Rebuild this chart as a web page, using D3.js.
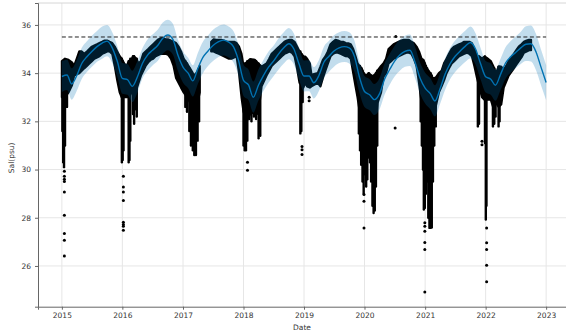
<!DOCTYPE html>
<html>
<head>
<meta charset="utf-8">
<script src="https://cdn.jsdelivr.net/npm/d3@7/dist/d3.min.js"></script>
<style>
  html, body { margin: 0; padding: 0; background: #fff; }
  svg { display: block; font-family: "DejaVu Sans", sans-serif; }
</style>
</head>
<body>
<svg id="chart" width="566" height="333"></svg>
<script>
// Salinity observations (psu) with a fitted seasonal forecast and its uncertainty band.

// Forecast: monthly samples, 2015-01 .. 2023-01
const fcDates = [
  "2015-01-01","2015-02-01","2015-03-01","2015-04-01","2015-05-01","2015-06-01","2015-07-01","2015-08-01","2015-09-01","2015-10-01","2015-11-01","2015-12-01",
  "2016-01-01","2016-02-01","2016-03-01","2016-04-01","2016-05-01","2016-06-01","2016-07-01","2016-08-01","2016-09-01","2016-10-01","2016-11-01","2016-12-01",
  "2017-01-01","2017-02-01","2017-03-01","2017-04-01","2017-05-01","2017-06-01","2017-07-01","2017-08-01","2017-09-01","2017-10-01","2017-11-01","2017-12-01",
  "2018-01-01","2018-02-01","2018-03-01","2018-04-01","2018-05-01","2018-06-01","2018-07-01","2018-08-01","2018-09-01","2018-10-01","2018-11-01","2018-12-01",
  "2019-01-01","2019-02-01","2019-03-01","2019-04-01","2019-05-01","2019-06-01","2019-07-01","2019-08-01","2019-09-01","2019-10-01","2019-11-01","2019-12-01",
  "2020-01-01","2020-02-01","2020-03-01","2020-04-01","2020-05-01","2020-06-01","2020-07-01","2020-08-01","2020-09-01","2020-10-01","2020-11-01","2020-12-01",
  "2021-01-01","2021-02-01","2021-03-01","2021-04-01","2021-05-01","2021-06-01","2021-07-01","2021-08-01","2021-09-01","2021-10-01","2021-11-01","2021-12-01",
  "2022-01-01","2022-02-01","2022-03-01","2022-04-01","2022-05-01","2022-06-01","2022-07-01","2022-08-01","2022-09-01","2022-10-01","2022-11-01","2022-12-01",
  "2023-01-01"
];
const yhat = [
  33.86,33.92,33.55,33.90,34.40,34.68,34.90,35.10,35.25,35.33,35.05,34.50,
  33.78,33.73,33.45,33.85,34.40,34.75,34.95,35.15,35.45,35.58,35.40,34.75,
  34.25,34.00,33.68,34.20,34.65,34.92,35.15,35.30,35.37,35.30,35.10,34.55,
  33.70,33.50,33.00,33.50,33.90,34.25,34.50,34.80,35.05,35.22,35.00,34.40,
  33.88,33.88,33.60,33.90,34.45,34.70,34.92,35.05,35.10,35.05,34.70,33.85,
  33.24,33.10,32.90,33.15,33.75,34.15,34.50,34.75,34.90,34.95,34.45,33.80,
  33.38,33.15,32.85,33.35,33.95,34.40,34.70,34.92,35.12,35.27,35.00,34.40,
  33.85,33.75,33.50,33.95,34.42,34.68,34.86,35.05,35.20,35.22,34.88,34.25,
  33.61
];
const yhatLower = [
  33.22,33.30,32.90,33.27,33.76,34.05,34.26,34.47,34.60,34.70,34.42,33.86,
  33.14,33.10,32.80,33.20,33.78,34.10,34.32,34.50,34.80,34.95,34.76,34.10,
  33.60,33.37,33.03,33.56,34.00,34.30,34.50,34.66,34.73,34.66,34.45,33.92,
  33.05,32.87,32.36,32.86,33.26,33.60,33.87,34.15,34.40,34.58,34.36,33.76,
  33.24,33.25,32.95,33.26,33.80,34.06,34.27,34.42,34.46,34.40,34.06,33.20,
  32.60,32.46,32.26,32.50,33.10,33.52,33.86,34.10,34.26,34.30,33.80,33.16,
  32.74,32.50,32.20,32.72,33.30,33.76,34.05,34.28,34.47,34.62,34.36,33.75,
  33.20,33.10,32.85,33.30,33.77,34.02,34.20,34.38,34.50,34.48,34.12,33.50,
  32.88
];
const yhatUpper = [
  34.50,34.56,34.20,34.55,35.05,35.32,35.55,35.75,35.93,36.00,35.70,35.14,
  34.42,34.38,34.10,34.50,35.03,35.40,35.60,35.80,36.10,36.22,36.05,35.40,
  34.90,34.64,34.33,34.85,35.30,35.56,35.80,35.95,36.02,35.95,35.75,35.20,
  34.35,34.14,33.65,34.15,34.55,34.90,35.14,35.45,35.70,35.87,35.64,35.05,
  34.52,34.53,34.25,34.55,35.10,35.34,35.57,35.70,35.75,35.70,35.35,34.50,
  33.88,33.75,33.55,33.80,34.40,34.80,35.14,35.40,35.55,35.60,35.10,34.45,
  34.02,33.80,33.50,34.00,34.60,35.05,35.35,35.57,35.77,35.93,35.65,35.05,
  34.50,34.40,34.15,34.60,35.07,35.33,35.52,35.72,35.95,35.98,35.62,34.98,
  34.33
];

// Capacity used by the logistic trend
const capValue = 35.5;
const capStart = "2015-01-01";
const capEnd = "2023-01-01";

// Main body of the observation cloud: upper and lower extent (null = no data)
const cloudDates = [
  "2015-01-01","2015-01-20","2015-02-10","2015-03-03","2015-03-16","2015-04-01","2015-04-16","2015-05-01","2015-05-16","2015-06-01","2015-06-16",
  "2015-07-01","2015-07-16","2015-08-01","2015-08-16","2015-09-01","2015-09-16","2015-10-01","2015-10-16","2015-11-01","2015-11-16","2015-12-01","2015-12-16","2015-12-28",
  "2016-01-12","2016-01-26","2016-02-10","2016-02-25","2016-03-10","2016-03-25","2016-04-08","2016-04-22","2016-05-06","2016-05-20","2016-06-05","2016-06-20",
  "2016-07-05","2016-07-20","2016-08-05","2016-08-20","2016-09-05","2016-09-20","2016-10-05","2016-10-20","2016-11-05","2016-11-20","2016-12-05","2016-12-20",
  "2017-01-05","2017-01-25","2017-02-12","2017-03-01","2017-03-14","2017-03-30","2017-04-12","2017-04-20",
  "2017-06-20","2017-07-05","2017-07-20","2017-08-05","2017-08-20","2017-09-05","2017-09-20","2017-10-05","2017-10-20","2017-11-05","2017-11-20","2017-12-05","2017-12-20",
  "2018-01-01","2018-01-20","2018-02-10","2018-03-10","2018-03-31","2018-04-20","2018-05-20","2018-06-05","2018-06-20","2018-07-05","2018-07-20","2018-08-05","2018-08-20",
  "2018-09-05","2018-09-20","2018-10-05","2018-10-20","2018-11-05","2018-11-20","2018-12-05","2018-12-28",
  "2019-01-08","2019-01-20","2019-02-05","2019-02-15","2019-03-25","2019-04-10","2019-04-25","2019-05-10","2019-05-25","2019-06-10","2019-06-25",
  "2019-07-10","2019-07-25","2019-08-10","2019-08-25","2019-09-10","2019-09-25","2019-10-10","2019-10-25","2019-11-08","2019-11-20","2019-12-01","2019-12-15","2019-12-26",
  "2020-01-10","2020-01-28","2020-02-10","2020-02-25","2020-03-10","2020-03-20","2020-04-10","2020-04-25","2020-05-10","2020-05-25","2020-06-10","2020-06-25",
  "2020-07-10","2020-07-25","2020-08-10","2020-08-25","2020-09-10","2020-09-25","2020-10-10","2020-10-25","2020-11-10","2020-11-25","2020-12-10","2020-12-22",
  "2021-01-10","2021-02-01","2021-02-20","2021-03-05","2021-03-25","2021-04-10","2021-04-25","2021-05-10","2021-05-25","2021-06-10","2021-06-25",
  "2021-07-10","2021-07-25","2021-08-10","2021-08-25","2021-09-10","2021-09-25","2021-10-10","2021-10-25","2021-11-10","2021-11-25","2021-12-10","2021-12-25",
  "2022-01-10","2022-02-01","2022-02-15","2022-03-05","2022-03-20","2022-04-05","2022-04-20","2022-05-05","2022-05-20","2022-06-05","2022-06-20",
  "2022-07-05","2022-07-20","2022-08-05","2022-08-20","2022-09-05","2022-09-20","2022-10-02"
];
const cloudHigh = [
  34.5,34.6,34.55,34.45,34.3,34.6,34.9,34.9,34.8,34.9,35.0,
  35.1,35.15,35.2,35.25,35.3,35.35,35.35,35.3,35.25,35.1,34.9,34.7,34.6,
  34.4,34.3,34.5,34.6,34.7,34.6,34.4,34.5,34.8,34.9,35.0,35.1,
  35.2,35.3,35.4,35.45,35.45,35.4,35.4,35.35,35.3,35.25,35.1,34.9,
  34.6,34.4,34.2,34.0,33.9,34.1,34.3,null,
  35.3,35.4,35.38,35.38,35.38,35.35,35.3,35.3,35.3,35.3,35.25,35.1,34.8,
  34.3,34.45,34.58,34.55,34.4,34.27,34.4,34.6,34.8,34.9,35.0,35.1,35.2,
  35.3,35.35,35.38,35.38,35.3,35.1,34.9,34.7,
  34.69,34.6,34.41,33.93,34.0,34.27,34.55,34.69,34.9,35.2,35.3,
  35.38,35.35,35.3,35.3,35.25,35.24,35.2,35.0,34.7,34.41,34.3,34.2,34.0,
  33.9,34.0,33.9,33.86,34.0,34.1,34.3,34.41,34.6,35.0,35.1,35.2,
  35.25,35.3,35.35,35.38,35.38,35.38,35.3,35.24,35.1,34.9,34.6,34.55,
  34.2,34.0,33.72,33.8,34.0,34.1,34.41,34.6,34.8,35.0,35.1,
  35.15,35.2,35.24,35.3,35.3,35.3,35.24,35.0,34.7,34.69,34.6,34.69,
  34.62,34.5,34.3,34.0,34.27,34.27,34.14,34.3,34.5,34.65,34.8,
  34.95,35.1,35.2,35.3,35.35,35.38,35.38
];
const cloudLow = [
  33.0,33.0,33.2,33.5,33.9,33.95,34.0,34.1,34.2,34.3,34.4,
  34.5,34.6,34.65,34.7,34.8,34.85,34.9,34.9,34.8,34.3,33.7,33.2,33.0,
  33.0,33.0,33.0,33.2,33.3,33.3,33.6,33.9,34.1,34.3,34.45,34.55,
  34.6,34.7,34.75,34.8,34.8,34.8,34.75,34.6,34.3,33.8,33.6,33.4,
  33.2,33.0,32.8,32.6,32.6,32.8,33.2,null,
  34.9,34.9,34.85,34.8,34.75,34.7,34.65,34.6,34.6,34.65,34.7,34.0,33.0,
  32.4,32.0,32.3,32.4,32.3,33.45,33.9,34.1,34.3,34.4,34.5,34.6,34.7,
  34.8,34.85,34.9,34.85,34.7,34.2,33.6,33.4,
  33.6,33.45,33.4,33.45,33.6,33.45,33.8,34.1,34.4,34.7,34.8,
  34.85,34.85,34.8,34.75,34.7,34.69,34.6,34.0,33.45,33.0,32.5,32.2,32.0,
  32.0,32.2,32.0,31.8,32.0,32.76,33.2,33.86,34.0,34.4,34.5,34.6,
  34.65,34.7,34.75,34.8,34.85,34.85,34.8,34.6,34.3,33.6,32.8,32.2,
  32.0,32.0,32.3,32.6,33.2,33.45,33.7,34.0,34.2,34.4,34.5,
  34.6,34.7,34.75,34.8,34.85,34.8,34.7,34.3,33.8,33.4,33.0,32.9,
  32.9,32.9,32.6,32.76,32.6,32.7,33.4,33.65,33.9,34.05,34.2,
  34.35,34.5,34.65,34.85,34.9,34.95,34.95
];

// Short runs of fresher water: top and bottom of each vertical streak
const streakDates = [
  "2015-01-04","2015-01-09","2015-01-14","2015-01-20","2015-02-01",
  "2015-12-29","2016-01-03","2016-01-08","2016-02-08","2016-02-13","2016-02-18","2016-03-05","2016-03-12","2016-03-20","2016-03-28",
  "2017-01-15","2017-01-25","2017-02-08","2017-02-18","2017-03-01","2017-03-10","2017-03-20","2017-03-30","2017-04-08",
  "2018-01-01","2018-01-08","2018-01-16","2018-01-24","2018-02-05","2018-02-18","2018-03-05","2018-03-18","2018-04-02","2018-04-12",
  "2018-12-10","2018-12-16","2018-12-24",
  "2019-11-28","2019-12-05","2019-12-12","2019-12-20","2019-12-27","2020-01-04","2020-01-11","2020-01-18","2020-01-26","2020-02-03",
  "2020-02-10","2020-02-18","2020-02-25","2020-03-03","2020-03-10","2020-03-18",
  "2020-12-05","2020-12-12","2020-12-19","2020-12-24","2020-12-30","2021-01-06","2021-01-13","2021-01-20","2021-01-27","2021-02-03",
  "2021-02-10","2021-02-17","2021-02-25","2021-03-06",
  "2021-11-15","2021-11-22","2021-12-28","2022-01-02","2022-01-06","2022-02-14","2022-02-22","2022-03-02","2022-03-20","2022-03-26"
];
const streakTop = [
  34.4,34.5,34.4,34.5,34.5,
  34.6,34.5,34.4,34.5,34.5,34.6,34.7,34.7,34.6,34.6,
  34.5,34.4,34.2,34.0,33.9,33.9,33.9,34.0,34.2,
  34.3,34.4,34.4,34.5,34.5,34.55,34.55,34.5,34.4,34.3,
  34.9,34.8,34.7,
  34.3,34.3,34.2,34.1,34.0,33.9,33.9,33.9,34.0,33.9,
  33.9,33.86,33.9,33.9,34.0,34.1,
  34.6,34.55,34.5,34.4,34.4,34.3,34.2,34.1,34.0,34.0,
  33.9,33.8,33.8,33.8,
  34.7,34.69,34.69,34.62,34.6,34.3,34.2,34.0,34.27,34.27
];
const streakBottom = [
  31.6,30.3,30.1,31.0,32.6,
  30.3,30.4,30.8,30.3,30.4,31.2,32.3,31.9,32.5,32.2,
  32.6,32.4,31.6,31.0,30.8,30.6,30.6,31.2,32.0,
  31.0,30.8,30.8,31.2,32.1,32.0,32.2,32.1,31.3,31.4,
  31.5,31.6,32.8,
  31.5,30.8,30.2,29.5,29.0,29.8,29.3,29.6,30.5,30.3,
  29.5,28.5,28.2,28.3,29.3,31.0,
  32.0,31.0,30.0,28.34,28.4,29.0,29.5,28.0,27.58,27.58,
  27.6,29.5,31.0,31.79,
  31.79,31.9,31.1,27.93,28.5,31.79,31.9,32.2,31.79,32.0
];

// Isolated low readings below the cloud
const outlierDates = [
  "2015-01-16","2015-01-16","2015-01-16","2015-01-16","2015-01-16","2015-01-16","2015-01-16","2015-01-16","2015-01-16",
  "2016-01-07","2016-01-07","2016-01-07","2016-01-07","2016-01-07","2016-01-07","2016-01-07","2016-01-07",
  "2018-01-25","2018-01-25",
  "2018-12-20","2018-12-20","2018-12-20",
  "2019-02-01","2019-02-01",
  "2019-12-29","2019-12-29","2019-12-29",
  "2020-07-04","2020-07-08",
  "2020-12-30","2020-12-30","2020-12-30","2020-12-30","2020-12-30","2020-12-30",
  "2021-12-10","2021-12-10",
  "2022-01-07","2022-01-07","2022-01-07","2022-01-07","2022-01-07"
];
const outlierValues = [
  29.93,29.72,29.6,29.5,29.07,28.1,27.35,27.07,26.41,
  29.72,29.28,29.07,28.72,27.81,27.72,27.65,27.48,
  30.3,29.97,
  30.96,30.82,30.62,
  33.0,32.85,
  28.96,28.68,27.58,
  31.72,35.52,
  27.79,27.65,27.44,26.97,26.68,24.92,
  31.17,31.03,
  27.58,26.96,26.68,26.03,25.35
];

// Axis ticks and labels
const yTicks = [26, 28, 30, 32, 34, 36];
const xTickYears = ["2015","2016","2017","2018","2019","2020","2021","2022","2023"];
const xLabel = "Date";
const yLabel = "Sal(psu)";

// ---- drawing ----
const W = 566, H = 333;
const plot = { left: 38, top: 3, right: 570, bottom: 306.7 };
const parse = d3.utcParse("%Y-%m-%d");

const x = d3.scaleUtc()
  .domain([parse("2014-08-10"), parse("2023-05-25")])
  .range([plot.left, plot.right]);
const y = d3.scaleLinear()
  .domain([24.31, 36.91])
  .range([plot.bottom, plot.top]);

const svg = d3.select("#chart");
svg.append("rect").attr("width", W).attr("height", H).attr("fill", "#fff");

svg.append("defs").append("clipPath").attr("id", "plotClip")
  .append("rect")
  .attr("x", plot.left).attr("y", plot.top)
  .attr("width", plot.right - plot.left).attr("height", plot.bottom - plot.top);

const xTickDates = xTickYears.map(yr => parse(yr + "-01-01"));

// grid
const grid = svg.append("g").attr("stroke", "#e6e6e6").attr("stroke-width", 1);
grid.selectAll("line.gx").data(xTickDates).join("line")
  .attr("x1", d => x(d)).attr("x2", d => x(d))
  .attr("y1", plot.top).attr("y2", plot.bottom);
grid.selectAll("line.gy").data(yTicks).join("line")
  .attr("x1", plot.left).attr("x2", plot.right)
  .attr("y1", d => y(d)).attr("y2", d => y(d));

const g = svg.append("g").attr("clip-path", "url(#plotClip)");

// observation cloud
const cloud = cloudDates.map((d, i) => ({ date: parse(d), hi: cloudHigh[i], lo: cloudLow[i] }));
g.append("path")
  .datum(cloud)
  .attr("d", d3.area()
    .defined(d => d.hi !== null)
    .x(d => x(d.date))
    .y0(d => y(d.lo))
    .y1(d => y(d.hi))
    .curve(d3.curveLinear))
  .attr("fill", "#000")
  .attr("stroke", "#000")
  .attr("stroke-width", 2.2)
  .attr("stroke-linejoin", "round");

// vertical streaks of low readings
g.selectAll("line.streak")
  .data(streakDates.map((d, i) => ({ date: parse(d), top: streakTop[i], bottom: streakBottom[i] })))
  .join("line")
  .attr("x1", d => x(d.date)).attr("x2", d => x(d.date))
  .attr("y1", d => y(d.top)).attr("y2", d => y(d.bottom))
  .attr("stroke", "#000")
  .attr("stroke-width", 2.4)
  .attr("stroke-linecap", "round");

// isolated points
g.selectAll("circle.pt")
  .data(outlierDates.map((d, i) => ({ date: parse(d), v: outlierValues[i] })))
  .join("circle")
  .attr("cx", d => x(d.date))
  .attr("cy", d => y(d.v))
  .attr("r", 1.5)
  .attr("fill", "#000");

// forecast band and line
const fc = fcDates.map((d, i) => ({ date: parse(d), yhat: yhat[i], lo: yhatLower[i], hi: yhatUpper[i] }));
g.append("path")
  .datum(fc)
  .attr("d", d3.area().x(d => x(d.date)).y0(d => y(d.lo)).y1(d => y(d.hi)).curve(d3.curveMonotoneX))
  .attr("fill", "#0072B2")
  .attr("fill-opacity", 0.24);
g.append("path")
  .datum(fc)
  .attr("d", d3.line().x(d => x(d.date)).y(d => y(d.yhat)).curve(d3.curveMonotoneX))
  .attr("fill", "none")
  .attr("stroke", "#0072B2")
  .attr("stroke-width", 1.4);

// capacity line
g.append("line")
  .attr("x1", x(parse(capStart))).attr("x2", x(parse(capEnd)))
  .attr("y1", y(capValue)).attr("y2", y(capValue))
  .attr("stroke", "#222")
  .attr("stroke-width", 1)
  .attr("stroke-dasharray", "4,2.5");

// frame
svg.append("line").attr("x1", plot.left).attr("x2", plot.right).attr("y1", plot.top).attr("y2", plot.top)
  .attr("stroke", "#d6d6d6");

// axes
const yAxis = d3.axisLeft(y).tickValues(yTicks).tickSize(3).tickPadding(4).tickFormat(d3.format("d"));
const xAxis = d3.axisBottom(x).tickValues(xTickDates).tickSize(3).tickPadding(3).tickFormat(d3.utcFormat("%Y"));

const ya = svg.append("g").attr("transform", `translate(${plot.left},0)`).call(yAxis);
const xa = svg.append("g").attr("transform", `translate(0,${plot.bottom})`).call(xAxis);
[ya, xa].forEach(a => {
  a.select(".domain").attr("stroke", "#666");
  a.selectAll(".tick line").attr("stroke", "#666");
  a.selectAll(".tick text").attr("fill", "#333").attr("font-size", 7.5)
    .attr("font-family", "DejaVu Sans, sans-serif");
});

svg.append("text")
  .attr("x", (plot.left + 546) / 2 + 10).attr("y", 330)
  .attr("text-anchor", "middle")
  .attr("font-size", 7.5).attr("fill", "#333")
  .text(xLabel);
svg.append("text")
  .attr("transform", `translate(14,${(plot.top + plot.bottom) / 2 + 3}) rotate(-90)`)
  .attr("text-anchor", "middle")
  .attr("font-size", 7.5).attr("fill", "#333")
  .text(yLabel);
</script>
</body>
</html>
